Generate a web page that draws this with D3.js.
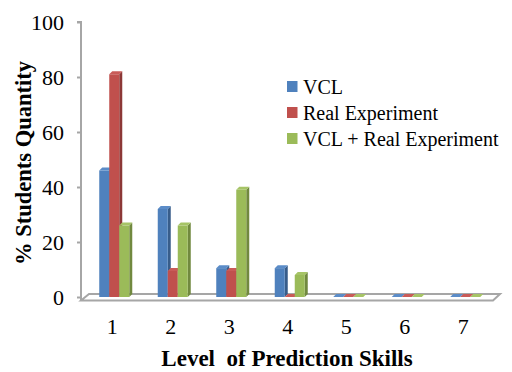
<!DOCTYPE html>
<html>
<head>
<meta charset="utf-8">
<script src="https://cdn.jsdelivr.net/npm/d3@7"></script>
<style>
  html, body { margin: 0; padding: 0; background: #fff; }
  svg { display: block; }
  text { font-family: "Liberation Serif", "Times New Roman", serif; fill: #000; }
</style>
</head>
<body>
<svg id="chart" width="512" height="372"></svg>
<script>
// Prediction-skill levels and the share of students at each level
const levels = ["1", "2", "3", "4", "5", "6", "7"];
const seriesNames = ["VCL", "Real Experiment", "VCL + Real Experiment"];
const vcl = [46, 32, 10.5, 10.5, 0, 0, 0];
const realExperiment = [81, 9.5, 9.5, 0, 0, 0, 0];
const vclPlusReal = [26, 26, 39, 8, 0, 0, 0];
const yTicks = [0, 20, 40, 60, 80, 100];

const seriesValues = [vcl, realExperiment, vclPlusReal];
const frontColors = ["#4F81BD", "#C0504D", "#9BBB59"];
const sideColors = ["#385D8A", "#8C3836", "#71893F"];
const topColors = ["#5B8CC8", "#C95B58", "#A6C466"];

const svg = d3.select("#chart");

const x = d3.scaleBand().domain(levels).range([83, 492.5]);
const xs = d3.scaleBand().domain(seriesNames).range([0, 30]);
const y = d3.scaleLinear().domain([0, 100]).range([297, 22]);

const depthX = 3, depthY = 3;
const base = y(0);

// floor slab
const floorPts = [[81, 300.5], [89, 294], [500, 294], [493, 300.5]];
svg.append("path")
  .attr("d", "M" + floorPts.map(p => p.join(",")).join("L") + "Z")
  .attr("fill", "#fff")
  .attr("stroke", "#A6A6A6")
  .attr("stroke-width", 2);

// value axis with ticks
const yAxis = d3.axisLeft(y).tickValues(yTicks).tickSize(4).tickPadding(13);
const yg = svg.append("g").attr("transform", "translate(81,0)").call(yAxis);
yg.select(".domain").attr("stroke", "#A6A6A6").attr("stroke-width", 2)
  .attr("d", `M-4,${y(100)}H0V${300.5}`);
yg.selectAll(".tick line").attr("stroke", "#A6A6A6").attr("stroke-width", 2);
yg.selectAll(".tick text")
  .style("font-family", "'Liberation Serif', serif")
  .style("font-size", "22px")
  .attr("fill", "#000");

// 3D columns: front face, right side and top
const bars = [];
seriesNames.forEach((name, si) => {
  levels.forEach((lv, li) => {
    bars.push({ si, lv, v: seriesValues[si][li] });
  });
});

const g = svg.append("g");
bars.forEach(b => {
  const x0 = x(b.lv) + x.bandwidth() / 2 - 13 + xs(seriesNames[b.si]);
  const w = xs.bandwidth();
  const yt = y(b.v);
  // side
  g.append("path")
    .attr("d", `M${x0 + w},${yt}L${x0 + w + depthX},${yt - depthY}L${x0 + w + depthX},${base - depthY}L${x0 + w},${base}Z`)
    .attr("fill", sideColors[b.si]);
  // front
  if (b.v > 0) {
    g.append("rect")
      .attr("x", x0).attr("y", yt)
      .attr("width", w).attr("height", base - yt)
      .attr("fill", frontColors[b.si]);
  }
  // top
  g.append("path")
    .attr("d", `M${x0},${yt}L${x0 + depthX},${yt - depthY}L${x0 + w + depthX},${yt - depthY}L${x0 + w},${yt}Z`)
    .attr("fill", topColors[b.si]);
});

// category labels
svg.append("g").selectAll("text")
  .data(levels)
  .join("text")
  .attr("x", d => x(d) + x.bandwidth() / 2)
  .attr("y", 334)
  .attr("text-anchor", "middle")
  .style("font-size", "22px")
  .text(d => d);

// axis titles
svg.append("text")
  .attr("x", 287)
  .attr("y", 366)
  .attr("text-anchor", "middle")
  .style("font-size", "23px")
  .style("font-weight", "bold")
  .style("white-space", "pre")
  .text("Level  of Prediction Skills");

svg.append("text")
  .attr("transform", "translate(31,163) rotate(-90)")
  .attr("text-anchor", "middle")
  .style("font-size", "22.5px")
  .style("font-weight", "bold")
  .text("% Students Quantity");

// legend
const legend = svg.append("g").selectAll("g")
  .data(seriesNames)
  .join("g")
  .attr("transform", (d, i) => `translate(287,${86.5 + i * 26})`);
legend.append("rect")
  .attr("x", 0).attr("y", -5.5)
  .attr("width", 10.5).attr("height", 11)
  .attr("fill", (d, i) => frontColors[i]);
legend.append("text")
  .attr("x", 16).attr("y", 7)
  .style("font-size", "20px")
  .text(d => d);
</script>
</body>
</html>
